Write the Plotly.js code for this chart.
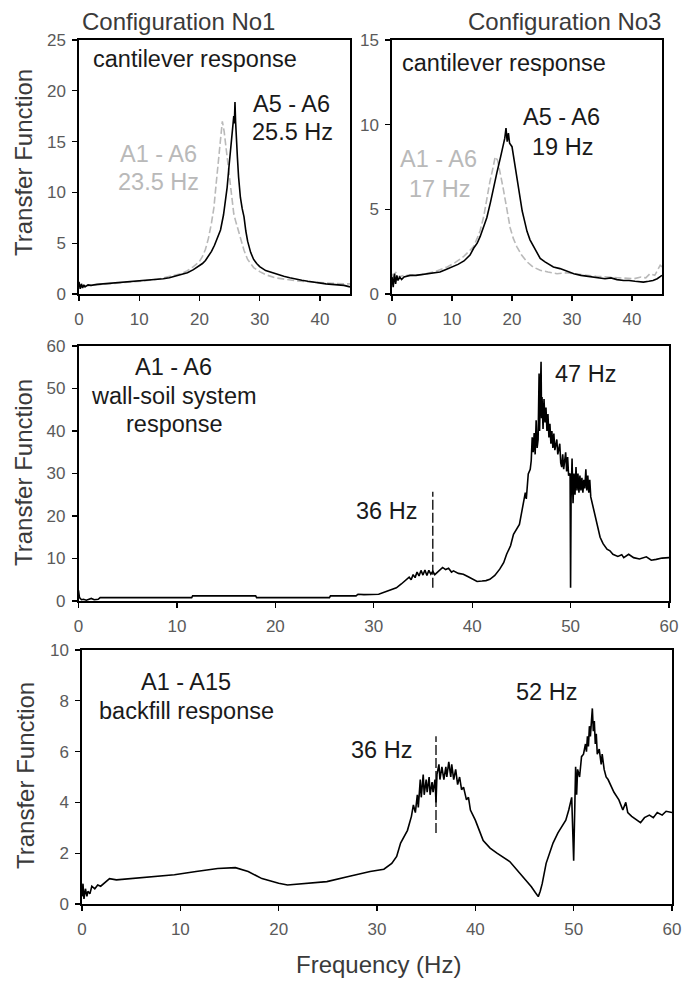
<!DOCTYPE html>
<html>
<head>
<meta charset="utf-8">
<script src="https://cdn.plot.ly/plotly-3.0.1.min.js"></script>
<style>html,body{margin:0;padding:0;background:#fff;}#plot{width:683px;height:990px;}</style>
</head>
<body>
<div id="plot"></div>
<script>
// ---- Data ----
// Panel 1: Configuration No1, cantilever response
const c1_a5a6_f = [0,0.2,0.4,0.6,0.8,1.0,1.5,2,3,4,5,6,7,8,9,10,11,12,13,14,15,16,17,18,19,20,20.5,21,21.5,22,22.5,23,23.5,24,24.3,24.6,24.9,25.2,25.5,25.7,25.8,25.9,26.0,26.1,26.3,26.5,26.8,27.1,27.4,27.7,28,28.5,29,29.5,30,31,32,33,34,35,36,37,38,39,40,41,42,43,44,45];
const c1_a5a6_v = [1.2,0.5,1.0,0.6,0.9,0.7,0.9,0.85,0.95,1.0,1.0,1.05,1.1,1.15,1.2,1.25,1.3,1.35,1.45,1.5,1.6,1.75,1.9,2.1,2.4,2.8,3.0,3.3,3.7,4.2,4.8,5.6,6.3,7.8,9.0,10.5,12.5,14.5,16.5,17.5,16.8,18.9,17.0,15.5,13.5,11.5,9.5,8.4,7.6,6.2,5.2,4.1,3.4,3.0,2.7,2.3,2.1,1.9,1.75,1.6,1.45,1.35,1.25,1.15,1.05,1.0,0.95,0.9,0.85,0.7];
const c1_a1a6_f = [0,0.3,0.6,1,2,3,5,7,9,11,13,15,17,18,19,20,20.5,21,21.5,22,22.4,22.8,23.2,23.5,23.8,24.1,24.4,24.7,25.0,25.3,25.7,26.0,26.3,26.8,27.4,28,29,30,31,32.5,34,36,38,40,42,44,45];
const c1_a1a6_v = [1.0,0.6,0.9,0.8,0.85,0.9,0.95,1.05,1.15,1.3,1.45,1.7,2.0,2.3,2.7,3.2,3.7,4.4,5.5,7.0,8.5,11.0,13.5,15.5,17.0,16.0,14.5,12.5,11.0,9.5,7.9,7.2,6.6,5.4,4.3,3.4,2.6,2.2,1.9,1.6,1.45,1.3,1.2,1.1,1.05,1.0,1.0];

// Panel 2: Configuration No3, cantilever response
const c3_a5a6_f = [0,0.2,0.4,0.6,0.8,1.0,1.3,1.6,2,2.5,3,4,5,6,7,8,9,10,11,12,13,13.6,14.2,14.7,15.2,15.8,16.4,16.9,17.5,18.1,18.5,18.8,19.0,19.2,19.4,19.6,20.0,20.4,20.8,21.2,21.7,22.1,22.5,23,23.6,24.2,24.7,25.5,26.9,28,29,30.3,31.5,32.5,33.6,34.5,35.5,36.5,37.5,38.6,39.5,40.5,41.9,42.8,43.5,44.2,45];
const c3_a5a6_v = [1.0,0.4,1.2,0.6,1.1,0.8,1.0,0.85,1.0,1.05,1.1,1.1,1.15,1.2,1.25,1.3,1.45,1.6,1.75,1.95,2.3,2.7,3.0,3.4,3.9,4.5,5.4,6.3,7.2,8.1,8.8,9.2,9.8,9.0,9.5,8.9,8.7,7.8,6.9,5.9,4.9,4.3,3.7,3.2,2.8,2.4,2.1,1.9,1.6,1.5,1.35,1.2,1.1,1.05,1.0,0.95,0.9,0.95,0.85,0.8,0.8,0.75,0.7,0.75,0.8,0.9,1.1];
const c3_a1a6_f = [0,0.3,0.6,1,2,3,5,7,9.2,10.5,11.9,12.8,13.6,14.2,14.7,15.3,15.8,16.3,16.8,17.2,17.6,18.1,18.5,18.9,19.3,19.7,20.2,20.8,21.6,22.5,23.5,24.7,26,27.5,29,30.3,32,34,35.8,37.5,39,40.3,41.5,42.3,43,43.8,44.7,45];
const c3_a1a6_v = [1.2,0.8,1.3,1.0,1.1,1.1,1.15,1.3,1.6,1.85,2.2,2.5,2.8,3.3,3.75,4.6,5.7,6.6,7.4,8.1,7.9,7.1,6.3,5.5,4.7,3.9,3.3,2.8,2.3,1.9,1.6,1.4,1.3,1.2,1.25,1.2,1.1,1.05,1.0,0.95,0.9,0.9,1.0,0.95,1.2,1.1,1.7,1.6];

// Panel 3: A1 - A6 wall-soil system response
const ws_f = [0,0.1,0.3,0.5,0.8,1.0,1.3,1.6,2.0,2.2,
  5,8,11.5,11.6,13,15,18,18.1,20,25.5,
  25.6,28.2,28.4,29,30.5,31,31.5,32.3,32.8,33.3,
  33.6,33.8,34.0,34.2,34.4,34.6,34.8,35.0,35.2,35.4,
  35.6,35.8,36.0,36.2,36.5,36.8,37.0,37.3,37.6,37.9,
  38.1,38.6,39.1,39.6,40.1,40.5,41.0,41.4,41.8,42.3,
  42.8,43.2,43.5,43.9,44.2,44.5,44.8,45.0,45.2,45.4,
  45.5,45.7,45.9,46.0,46.1,46.2,46.3,46.4,46.5,46.6,
  46.7,46.8,46.85,46.9,47.0,47.05,47.1,47.2,47.3,47.4,
  47.5,47.6,47.7,47.8,47.9,48.0,48.1,48.2,48.3,48.4,
  48.6,48.7,48.9,49.0,49.1,49.2,49.3,49.5,49.6,49.7,
  49.8,49.95,50.0,50.05,50.15,50.25,50.35,50.45,50.55,50.65,
  50.75,50.85,50.95,51.05,51.15,51.25,51.35,51.45,51.55,51.65,
  51.75,51.85,51.95,52.05,52.2,52.35,52.5,52.65,52.8,53.0,
  53.3,53.7,54.0,54.3,54.8,55.2,55.4,55.9,56.4,57.0,
  57.7,58.2,58.7,59.3,60];
const ws_v = [2.5,0.8,0.3,0.4,0.2,0.4,0.6,0.3,0.4,0.8,
  0.8,0.8,0.8,1.2,1.2,1.2,1.2,0.8,0.8,0.8,
  1.2,1.2,1.6,1.5,1.6,2.0,2.4,3.1,4.0,5.1,
  5.6,5.0,6.2,5.5,6.8,5.9,7.2,6.1,7.3,6.0,
  7.2,6.3,7.0,6.2,6.8,7.3,7.9,7.4,7.7,6.8,
  7.1,6.5,6.3,5.7,5.1,4.6,4.7,4.8,5.1,6.0,
  7.5,9.0,11.0,13.0,15.7,17.0,18.0,20.5,22.8,25.5,
  24.0,29.9,31.0,33.0,38.5,35.0,39.5,34.5,42.5,36.0,
  38.0,53.5,40.0,44.0,56.3,43.0,48.0,40.5,47.5,42.0,
  45.5,40.0,44.0,38.5,41.7,37.0,40.0,36.0,39.4,35.5,
  38.0,34.5,37.0,32.5,31.5,34.5,31.0,35.0,30.5,33.9,
  29.5,30.0,3.1,24.0,33.5,23.0,30.0,25.0,31.5,26.0,
  30.0,25.5,29.5,26.0,29.0,25.5,28.5,26.5,31.0,26.0,
  29.5,25.5,28.5,24.5,23.0,21.5,20.5,18.5,17.5,15.0,
  13.5,12.2,11.8,11.0,10.5,10.9,10.2,11.0,10.2,9.9,
  10.4,9.6,9.8,10.1,10.2];

// Panel 4: A1 - A15 backfill response
const bf_f = [0,0.1,0.2,0.35,0.5,0.6,0.8,1.0,1.3,1.6,
  1.9,2.3,2.8,3.5,5,7.2,9.4,11.6,13.8,15.6,
  16.9,18.3,19.2,20,20.9,22.7,24.9,27.1,29.3,30.7,
  31.5,32,32.4,33.1,33.5,33.7,33.9,34.1,34.2,34.4,
  34.5,34.7,34.8,35.0,35.1,35.3,35.4,35.6,35.7,35.9,
  36.0,36.1,36.3,36.4,36.6,36.8,37.0,37.1,37.3,37.5,
  37.6,37.8,38.0,38.2,38.4,38.6,38.8,39.1,39.3,39.5,
  40,40.4,40.8,41.5,42.2,43.5,44.8,45.7,46.1,46.4,
  46.6,46.8,47.2,47.9,48.4,48.8,49.2,49.5,49.8,50.0,
  50.1,50.2,50.3,50.4,50.6,50.8,51.0,51.2,51.3,51.4,
  51.5,51.6,51.7,51.8,51.9,52.0,52.1,52.2,52.3,52.4,
  52.6,52.8,52.9,53.1,53.3,53.5,54.1,54.6,55,55.3,
  55.5,55.9,56.4,56.8,57.2,57.7,58.1,58.5,59,59.4,60];
const bf_v = [0.3,0.8,0.2,0.6,0.3,0.5,0.4,0.7,0.6,0.75,
  0.7,0.85,1.0,0.95,1.0,1.08,1.15,1.28,1.4,1.43,
  1.28,1.0,0.9,0.82,0.75,0.82,0.88,1.08,1.28,1.37,
  1.6,1.87,2.4,2.9,3.45,3.9,3.6,4.3,3.8,4.9,
  4.2,5.1,4.3,4.9,4.4,5.0,4.3,4.8,4.4,4.9,
  4.0,5.1,5.5,4.9,5.4,4.9,5.4,5.0,5.6,5.0,
  5.5,4.9,5.3,4.7,5.0,4.5,4.6,4.1,4.2,3.7,
  3.3,2.9,2.5,2.2,2.0,1.67,1.08,0.68,0.45,0.29,
  0.5,0.8,1.6,2.4,2.8,3.05,3.3,3.7,4.2,1.7,
  4.0,5.4,4.3,5.3,5.0,5.8,5.9,6.3,6.0,6.6,
  6.2,7.0,6.6,7.3,7.7,6.8,7.2,6.3,6.7,5.9,
  6.1,5.5,5.9,5.3,5.0,4.9,4.4,4.1,3.7,4.0,
  3.6,3.45,3.3,3.2,3.4,3.5,3.4,3.6,3.5,3.65,3.6];

// 36 Hz marker lines
const mark_f = [36, 36];
const mark_ws_v = [3.1, 25.7];
const mark_bf_v = [2.8, 6.6];

// Tick values
const ticks45 = [0,10,20,30,40];
const ticks60 = [0,10,20,30,40,50,60];
const ticksY1 = [0,5,10,15,20,25];
const ticksY2 = [0,5,10,15];
const ticksY3 = [0,10,20,30,40,50,60];
const ticksY4 = [0,2,4,6,8,10];

// ---- Plot ----
const W = 683, H = 990;
const px = v => v / W;
const py = v => 1 - v / H;
const FONT = '"Liberation Sans", Arial, sans-serif';
const BLACK = '#000';
const GRAY = '#b9b9b9';

const solid = {color: BLACK, width: 1.6};
const dashedGray = {color: GRAY, width: 1.6, dash: '7px,3px'};
const dashedBlack = {color: BLACK, width: 1.3, dash: '10px,3px'};

const traces = [
  {x: c1_a1a6_f, y: c1_a1a6_v, xaxis: 'x', yaxis: 'y', mode: 'lines', line: dashedGray},
  {x: c1_a5a6_f, y: c1_a5a6_v, xaxis: 'x', yaxis: 'y', mode: 'lines', line: solid},
  {x: c3_a1a6_f, y: c3_a1a6_v, xaxis: 'x2', yaxis: 'y2', mode: 'lines', line: dashedGray},
  {x: c3_a5a6_f, y: c3_a5a6_v, xaxis: 'x2', yaxis: 'y2', mode: 'lines', line: solid},
  {x: ws_f, y: ws_v, xaxis: 'x3', yaxis: 'y3', mode: 'lines', line: solid},
  {x: mark_f, y: mark_ws_v, xaxis: 'x3', yaxis: 'y3', mode: 'lines', line: dashedBlack},
  {x: bf_f, y: bf_v, xaxis: 'x4', yaxis: 'y4', mode: 'lines', line: solid},
  {x: mark_f, y: mark_bf_v, xaxis: 'x4', yaxis: 'y4', mode: 'lines', line: dashedBlack}
];

function ax(dom, range, tv, anchor, standoff) {
  return {domain: dom, range: range, tickvals: tv, ticktext: tv.map(String), anchor: anchor,
    showline: true, mirror: true, linecolor: BLACK, linewidth: 1.6,
    ticks: 'outside', ticklen: 5, tickwidth: 1.3, tickcolor: BLACK,
    ticklabelstandoff: standoff,
    showgrid: false, zeroline: false, fixedrange: true,
    tickfont: {family: FONT, size: 17, color: '#5a5a5a'}};
}

const layout = {
  width: W, height: H,
  margin: {l: 0, r: 0, t: 0, b: 0},
  paper_bgcolor: '#fff', plot_bgcolor: '#fff',
  showlegend: false,
  xaxis:  ax([px(79), px(350)], [0, 45], ticks45, 'y', 4),
  yaxis:  ax([py(294), py(40)], [0, 25], ticksY1, 'x', 3),
  xaxis2: ax([px(392), px(662)], [0, 45], ticks45, 'y2', 4),
  yaxis2: ax([py(294), py(40)], [0, 15], ticksY2, 'x2', 3),
  xaxis3: ax([px(78.5), px(669)], [0, 60], ticks60, 'y3', 4),
  yaxis3: ax([py(601), py(346)], [0, 60], ticksY3, 'x3', 3),
  xaxis4: ax([px(82), px(672)], [0, 60], ticks60, 'y4', 4),
  yaxis4: ax([py(904), py(650)], [0, 10], ticksY4, 'x4', 3),
  annotations: []
};

function ann(text, x, y, size, color, angle) {
  layout.annotations.push({text: text, x: px(x), y: py(y), xref: 'paper', yref: 'paper',
    xanchor: 'center', yanchor: 'middle', showarrow: false, textangle: angle || 0,
    font: {family: FONT, size: size, color: color}});
}

const AF = 23.5, TF = 24, DARK = '#1a1a1a', TITLE = '#3a3a3a';
ann('Configuration No1', 178, 21, TF, TITLE);
ann('Configuration No3', 564, 21, TF, TITLE);
ann('cantilever response', 195, 59, AF, DARK);
ann('A5 - A6', 291, 104, AF, DARK);
ann('25.5 Hz', 292, 132, AF, DARK);
ann('A1 - A6', 158, 154, AF, GRAY);
ann('23.5 Hz', 158, 182, AF, GRAY);
ann('cantilever response', 504, 63, AF, DARK);
ann('A5 - A6', 561, 117, AF, DARK);
ann('19 Hz', 562, 147, AF, DARK);
ann('A1 - A6', 438, 159, AF, GRAY);
ann('17 Hz', 439, 189, AF, GRAY);
ann('A1 - A6', 173, 367, AF, DARK);
ann('wall-soil system', 174, 396, AF, DARK);
ann('response', 174, 424, AF, DARK);
ann('47 Hz', 585, 374, AF, DARK);
ann('36 Hz', 386, 511, AF, DARK);
ann('A1 - A15', 186, 682, AF, DARK);
ann('backfill response', 186, 711, AF, DARK);
ann('52 Hz', 546, 692, AF, DARK);
ann('36 Hz', 381, 750, AF, DARK);
ann('Frequency (Hz)', 378, 964, TF, TITLE);
ann('Transfer Function', 23, 163, TF, TITLE, -90);
ann('Transfer Function', 23, 473, TF, TITLE, -90);
ann('Transfer Function', 25, 776, TF, TITLE, -90);

Plotly.newPlot('plot', traces, layout, {displayModeBar: false, staticPlot: true});
</script>
</body>
</html>
